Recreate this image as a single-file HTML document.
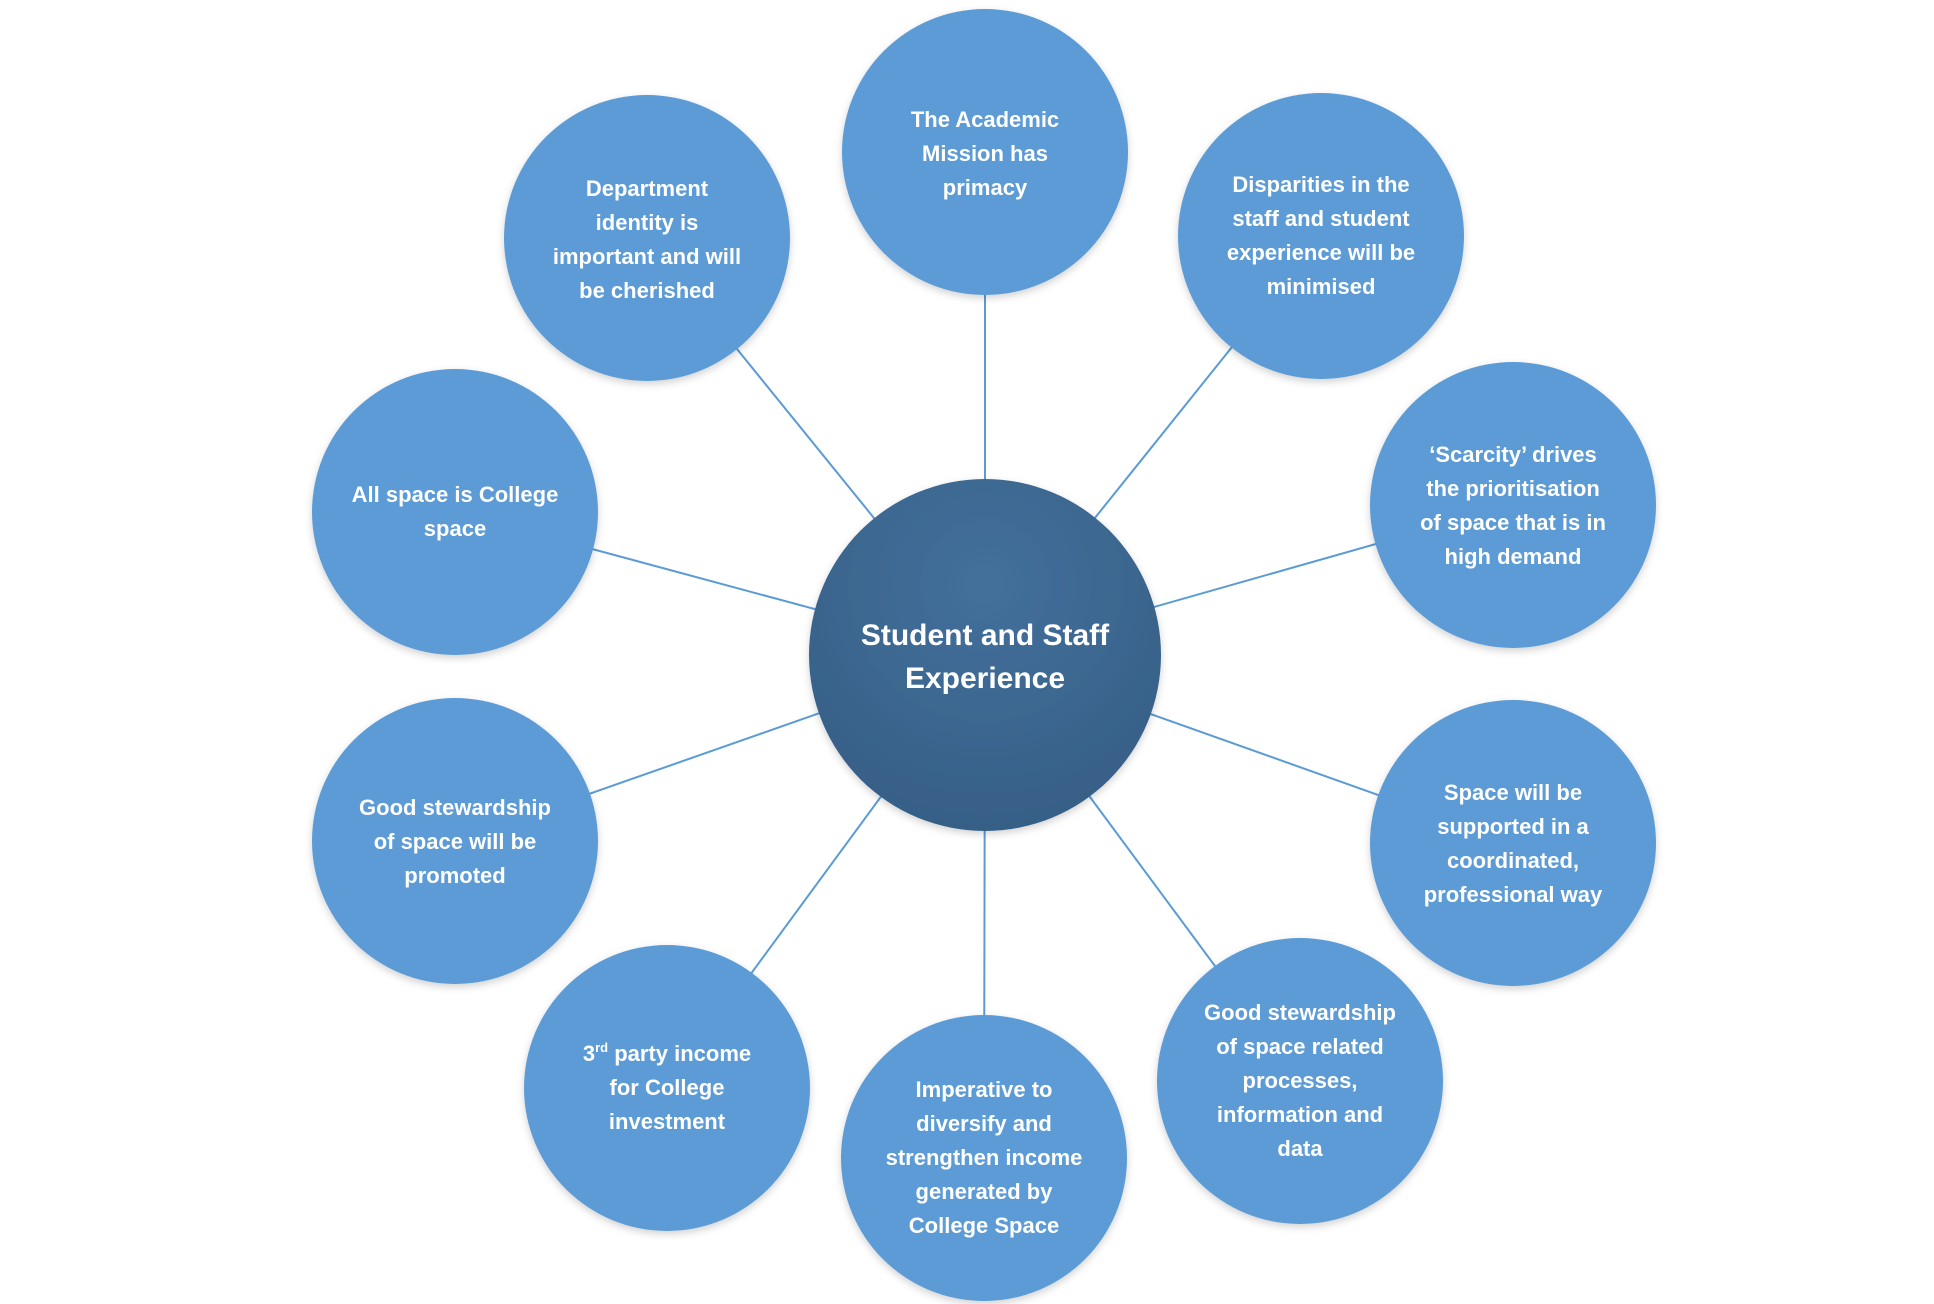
<!DOCTYPE html>
<html><head><meta charset="utf-8"><style>
html,body{margin:0;padding:0;background:#fff}
svg{display:block}
text{font-family:"Liberation Sans",Arial,sans-serif;font-weight:bold;fill:#fff;text-anchor:middle}
.o{font-size:22px}
.c{font-size:30px}
</style></head><body>
<svg width="1934" height="1304" viewBox="0 0 1934 1304">
<defs>
<radialGradient id="g" cx="50%" cy="30%" r="70%">
<stop offset="0" stop-color="#43709c"/><stop offset="1" stop-color="#365f86"/>
</radialGradient>
<filter id="s" x="-20%" y="-20%" width="140%" height="140%"><feDropShadow dx="0" dy="3" stdDeviation="4" flood-color="#000" flood-opacity="0.18"/></filter>
</defs>
<g stroke="#5b9bd5" stroke-width="2">
<line x1="985" y1="655" x2="985" y2="152"/>
<line x1="985" y1="655" x2="647" y2="238"/>
<line x1="985" y1="655" x2="1321" y2="236"/>
<line x1="985" y1="655" x2="1513" y2="505"/>
<line x1="985" y1="655" x2="455" y2="512"/>
<line x1="985" y1="655" x2="455" y2="841"/>
<line x1="985" y1="655" x2="1513" y2="843"/>
<line x1="985" y1="655" x2="667" y2="1088"/>
<line x1="985" y1="655" x2="984" y2="1158"/>
<line x1="985" y1="655" x2="1300" y2="1081"/>
</g>
<g fill="#5b9bd5" filter="url(#s)">
<circle cx="985" cy="152" r="143"/>
<circle cx="647" cy="238" r="143"/>
<circle cx="1321" cy="236" r="143"/>
<circle cx="1513" cy="505" r="143"/>
<circle cx="455" cy="512" r="143"/>
<circle cx="455" cy="841" r="143"/>
<circle cx="1513" cy="843" r="143"/>
<circle cx="667" cy="1088" r="143"/>
<circle cx="984" cy="1158" r="143"/>
<circle cx="1300" cy="1081" r="143"/>
<circle cx="985" cy="655" r="176" fill="url(#g)"/>
</g>
<text class="c" x="985" y="645">Student and Staff</text>
<text class="c" x="985" y="688">Experience</text>
<g class="o">
<text x="985" y="127">The Academic</text><text x="985" y="161">Mission has</text><text x="985" y="195">primacy</text>
<text x="647" y="196">Department</text><text x="647" y="230">identity is</text><text x="647" y="264">important and will</text><text x="647" y="298">be cherished</text>
<text x="1321" y="192">Disparities in the</text><text x="1321" y="226">staff and student</text><text x="1321" y="260">experience will be</text><text x="1321" y="294">minimised</text>
<text x="1513" y="462">‘Scarcity’ drives</text><text x="1513" y="496">the prioritisation</text><text x="1513" y="530">of space that is in</text><text x="1513" y="564">high demand</text>
<text x="455" y="502">All space is College</text><text x="455" y="536">space</text>
<text x="455" y="815">Good stewardship</text><text x="455" y="849">of space will be</text><text x="455" y="883">promoted</text>
<text x="1513" y="800">Space will be</text><text x="1513" y="834">supported in a</text><text x="1513" y="868">coordinated,</text><text x="1513" y="902">professional way</text>
<text x="667" y="1061">3<tspan font-size="13" dy="-9">rd</tspan><tspan dy="9"> party income</tspan></text><text x="667" y="1095">for College</text><text x="667" y="1129">investment</text>
<text x="984" y="1097">Imperative to</text><text x="984" y="1131">diversify and</text><text x="984" y="1165">strengthen income</text><text x="984" y="1199">generated by</text><text x="984" y="1233">College Space</text>
<text x="1300" y="1020">Good stewardship</text><text x="1300" y="1054">of space related</text><text x="1300" y="1088">processes,</text><text x="1300" y="1122">information and</text><text x="1300" y="1156">data</text>
</g>
</svg>
</body></html>
